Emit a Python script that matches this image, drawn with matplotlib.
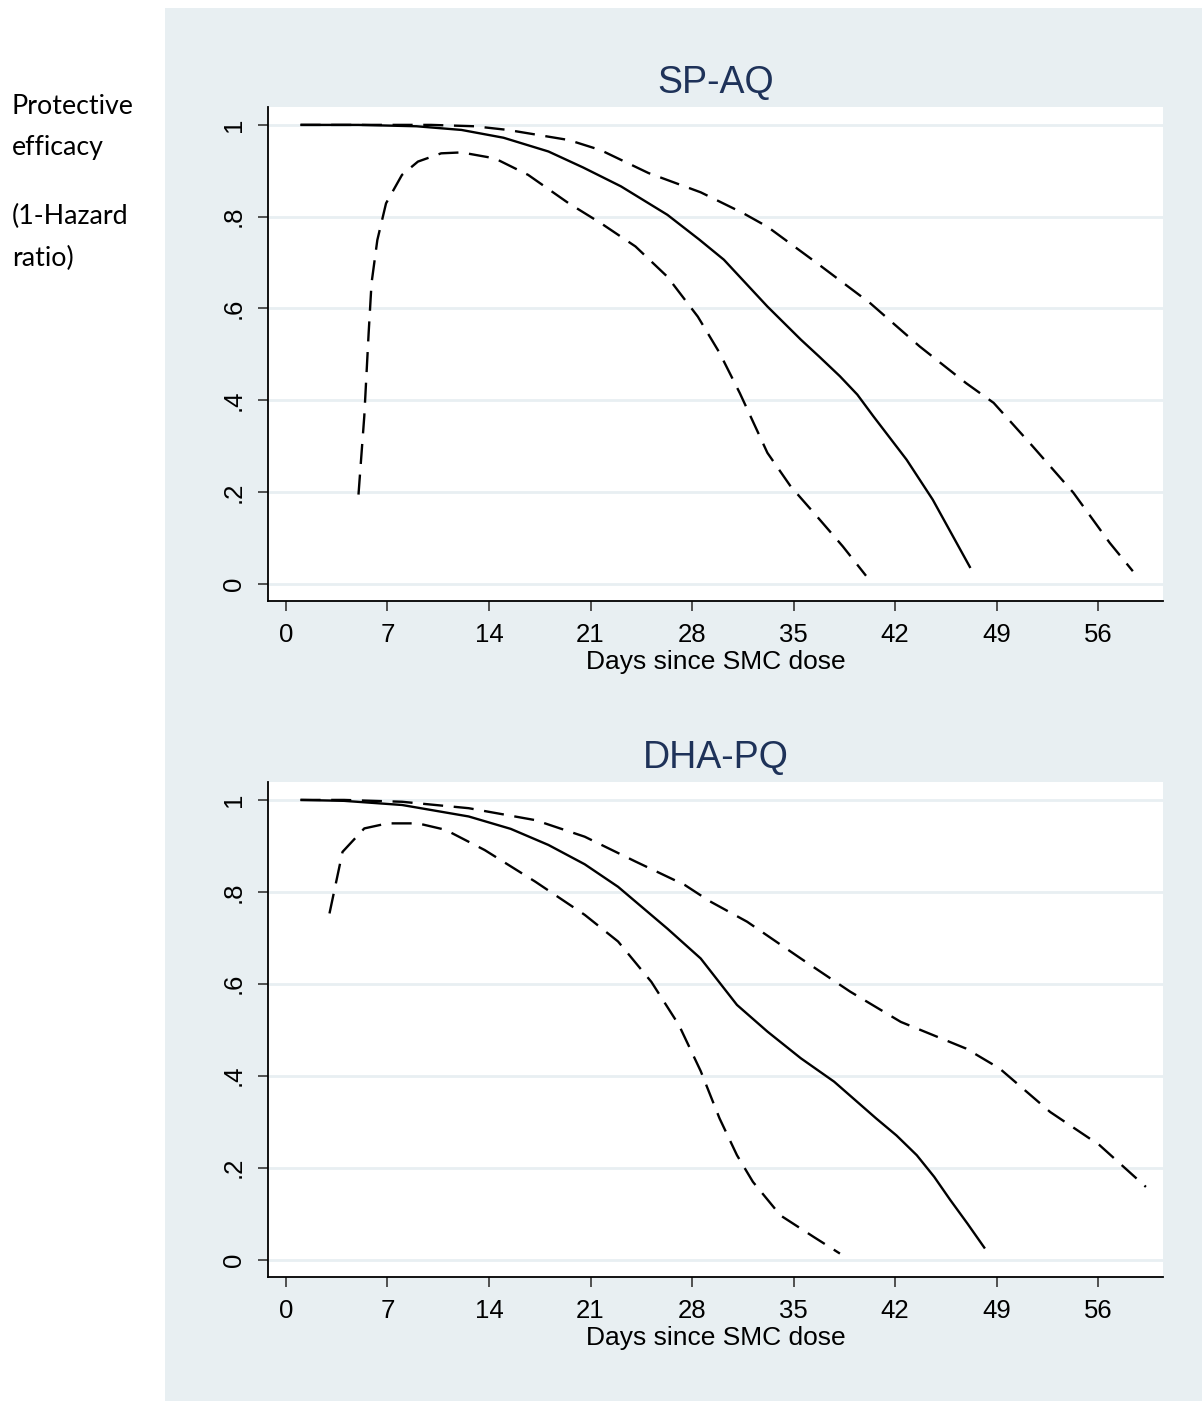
import matplotlib.pyplot as plt
from matplotlib.patches import Rectangle

# SP-AQ: point estimate and 95% limits
spaq_est_day = [1, 5, 9, 12.1, 15, 18.1, 20.5, 23.1, 26.3, 28.5, 30.2, 33.2, 35.5, 36.8, 38.2, 39.4, 40.5, 42.8, 44.6, 47.2]
spaq_est_val = [1.0, 1.0, 0.997, 0.989, 0.972, 0.942, 0.907, 0.866, 0.804, 0.75, 0.706, 0.604, 0.532, 0.494, 0.452, 0.412, 0.365, 0.27, 0.183, 0.034]
spaq_hi_day = [1, 6, 10, 13, 15.3, 19.5, 21.7, 25, 28.6, 31.5, 33.2, 36.6, 40.3, 43.7, 46.9, 48.8, 51.5, 54.3, 56.8, 58.4]
spaq_hi_val = [1.0, 1.0, 1.0, 0.997, 0.989, 0.967, 0.945, 0.895, 0.853, 0.808, 0.778, 0.699, 0.611, 0.517, 0.437, 0.394, 0.299, 0.198, 0.089, 0.027]
spaq_lo_day = [5.0, 5.4, 5.7, 5.9, 6.3, 6.9, 8.0, 9.1, 10.7, 12.1, 14.4, 16.7, 19.5, 21.7, 24.1, 26.3, 28.4, 29.9, 31.3, 33.2, 34.8, 36.6, 38.4, 40.0]
spaq_lo_val = [0.194, 0.365, 0.546, 0.655, 0.749, 0.829, 0.891, 0.92, 0.938, 0.94, 0.927, 0.891, 0.829, 0.786, 0.735, 0.669, 0.582, 0.503, 0.415, 0.285, 0.212, 0.147, 0.081, 0.017]

# DHA-PQ
dha_est_day = [1, 4, 8, 12.6, 15.5, 18.1, 20.6, 22.9, 26.3, 28.6, 31.1, 33.2, 35.5, 37.8, 40.7, 42.1, 43.5, 44.7, 45.8, 47.0, 48.2]
dha_est_val = [1.0, 0.998, 0.989, 0.964, 0.937, 0.902, 0.86, 0.811, 0.72, 0.655, 0.554, 0.496, 0.438, 0.387, 0.307, 0.27, 0.227, 0.18, 0.13, 0.078, 0.024]
dha_hi_day = [1, 4, 8, 12.6, 17.2, 20.6, 24.1, 27.5, 29.2, 31.8, 35.5, 38.9, 42.4, 46.9, 49.2, 52.7, 56.1, 59.3]
dha_hi_val = [1.0, 1.0, 0.996, 0.982, 0.956, 0.92, 0.866, 0.815, 0.78, 0.735, 0.655, 0.583, 0.517, 0.459, 0.416, 0.321, 0.249, 0.158]
dha_lo_day = [3.0, 3.9, 5.4, 7.0, 9.1, 11.0, 13.7, 17.2, 20.6, 22.9, 25.2, 27.1, 28.6, 29.9, 31.1, 32.2, 34.1, 36.4, 38.2]
dha_lo_val = [0.753, 0.887, 0.938, 0.949, 0.949, 0.935, 0.891, 0.822, 0.75, 0.692, 0.604, 0.51, 0.41, 0.307, 0.227, 0.169, 0.096, 0.049, 0.013]

x_ticks = [0, 7, 14, 21, 28, 35, 42, 49, 56]
y_ticks = [0, 0.2, 0.4, 0.6, 0.8, 1]
y_labels = ["0", ".2", ".4", ".6", ".8", "1"]

W, H = 1202, 1401
bg = "#E8EFF2"
title_col = "#1E3259"

fig = plt.figure(figsize=(W / 100, H / 100), dpi=100)
fig.patch.set_facecolor("white")
fig.patches.append(Rectangle((165 / W, 0), 1 - 165 / W, 1 - 8 / H, transform=fig.transFigure,
                             facecolor=bg, edgecolor="none", zorder=-10))

panels = [
    ("SP-AQ", 107, 601, (spaq_est_day, spaq_est_val), (spaq_hi_day, spaq_hi_val), (spaq_lo_day, spaq_lo_val)),
    ("DHA-PQ", 782, 1277, (dha_est_day, dha_est_val), (dha_hi_day, dha_hi_val), (dha_lo_day, dha_lo_val)),
]

for title, top, bottom, est, hi, lo in panels:
    ax = fig.add_axes([268 / W, 1 - bottom / H, (1163 - 268) / W, (bottom - top) / H])
    ax.set_facecolor("white")
    ax.plot(est[0], est[1], color="black", lw=1.7, solid_capstyle="butt", solid_joinstyle="round")
    for d, v in (hi, lo):
        ax.plot(d, v, color="black", lw=1.7, dashes=(8.5, 4.5), dash_joinstyle="round")
    ax.set_xlim(-1.24, 60.48)
    ax.set_ylim(-0.038, 1.039)
    ax.set_xticks(x_ticks)
    ax.set_yticks(y_ticks)
    ax.set_yticklabels(y_labels, rotation=90, va="center")
    ax.grid(axis="y", color=bg, lw=2)
    ax.set_axisbelow(True)
    for s in ["top", "right"]:
        ax.spines[s].set_visible(False)
    for s in ["left", "bottom"]:
        ax.spines[s].set_linewidth(1.3)
    ax.tick_params(direction="out", length=7, width=1.3, color="#444444", labelsize=18.5, pad=9)
    for lab in ax.get_xticklabels() + ax.get_yticklabels():
        lab.set_fontfamily("Liberation Sans")
    ax.set_xlabel("Days since SMC dose", fontsize=19, family="Liberation Sans", labelpad=2)
    ax.set_title(title, fontsize=27, family="Liberation Sans", color=title_col, pad=10)

side = [("Protective", 107), ("efficacy", 148), ("(1-Hazard", 216), ("ratio)", 258)]
for txt, y in side:
    fig.text(12 / W, 1 - y / H, txt, fontsize=19.3, family="Lato", va="center", ha="left")

fig.savefig("out.png", dpi=100, facecolor=fig.get_facecolor())
